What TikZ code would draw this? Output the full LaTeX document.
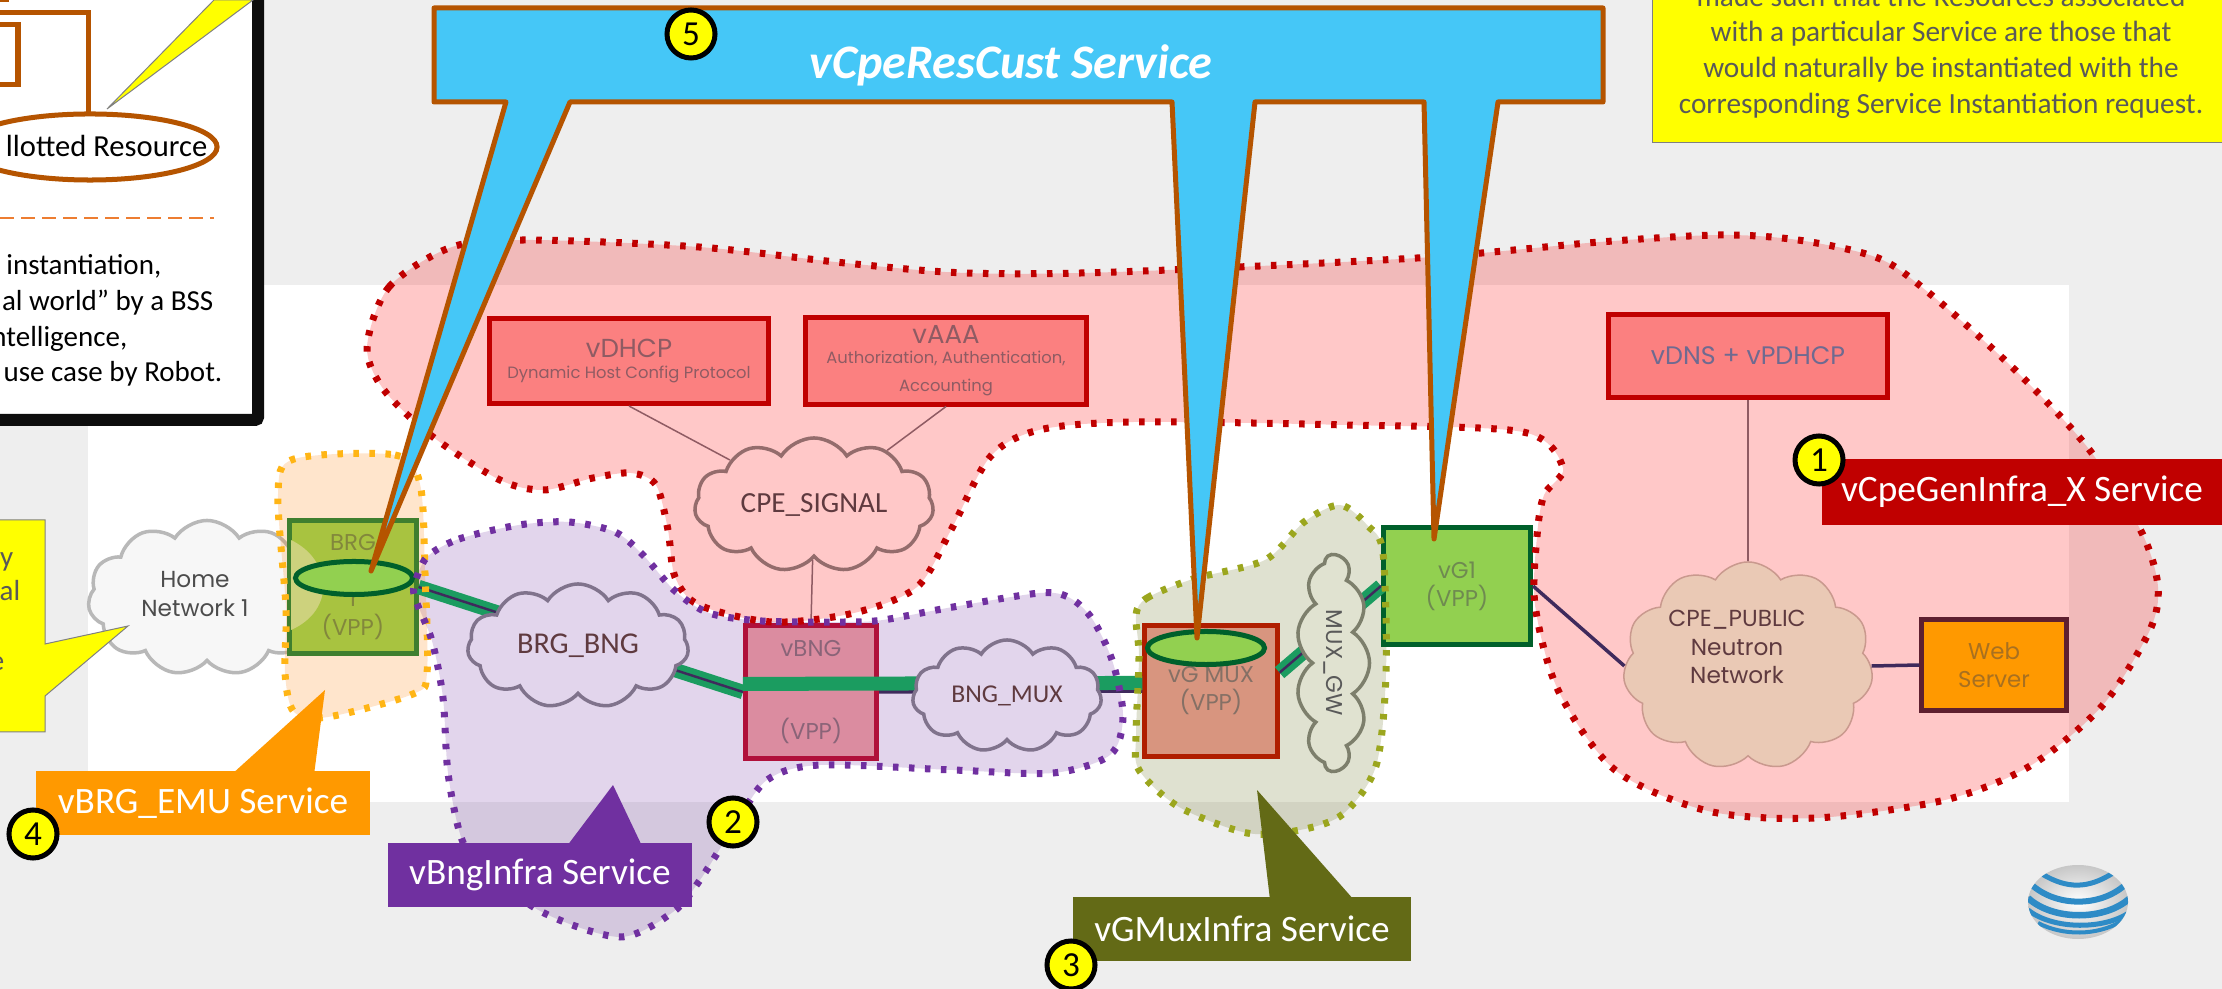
\documentclass[tikz,border=0pt]{standalone}
\usepackage{fontspec}
\usetikzlibrary{shapes.geometric,shapes.symbols}
\setmainfont{Carlito}
\newfontfamily\gothic{Poppins}
\definecolor{bggray}{HTML}{EEEEEE}
\definecolor{noteyellow}{HTML}{FFFF00}
\definecolor{boxred}{HTML}{C00000}
\definecolor{boxpink}{HTML}{FB8080}
\definecolor{calloutblue}{HTML}{45C7F7}
\definecolor{calloutbrown}{HTML}{B55400}
\definecolor{labelorange}{HTML}{FF9900}
\definecolor{labelpurple}{HTML}{7030A0}
\definecolor{labelolive}{HTML}{636A16}
\definecolor{dotorange}{HTML}{FFB515}
\definecolor{dotolive}{HTML}{9BA61E}
\definecolor{slotgreen}{HTML}{92D050}
\definecolor{slotdark}{HTML}{00602B}
\definecolor{linkgreen}{HTML}{1B9C60}
\definecolor{linkdark}{HTML}{3F2A5C}
\definecolor{notegray}{HTML}{595959}
\definecolor{purpletint}{HTML}{E2D5EC}
\definecolor{txtmaroon}{HTML}{8F5B63}
\definecolor{txtdark}{HTML}{5F3A3F}
\definecolor{cloudgray}{HTML}{80738C}
\definecolor{webline}{HTML}{5E2030}
\definecolor{webtxt}{HTML}{A87020}
\definecolor{brgline}{HTML}{3F7F2F}
\definecolor{brgfill}{HTML}{A8C340}
\definecolor{brgtxt}{HTML}{82873C}
\definecolor{brglens}{HTML}{CDD27D}
\definecolor{bngline}{HTML}{B0103A}
\definecolor{bngfill}{HTML}{DB8CA0}
\definecolor{bngtxt}{HTML}{8A6478}
\definecolor{muxline}{HTML}{B01E00}
\definecolor{muxfill}{HTML}{D8957F}
\definecolor{muxtxt}{HTML}{857065}
\definecolor{vgtxt}{HTML}{6F8A50}
\definecolor{dnstxt}{HTML}{6F6A90}
\definecolor{signalline}{HTML}{946C6C}
\definecolor{signalfill}{HTML}{FFC8C8}
\definecolor{gwline}{HTML}{7D7F6C}
\definecolor{gwfill}{HTML}{E0E2D0}
\definecolor{publicline}{HTML}{C9998E}
\definecolor{publicfill}{HTML}{EAC9B5}
\definecolor{dashorange}{HTML}{ED7D31}
\definecolor{logoblue}{HTML}{2E8BC6}
\newcommand{\subtxt}{\fontsize{4.65pt}{5.3pt}\selectfont}
\newcommand{\bigtxt}{\fontsize{7.4pt}{9pt}\selectfont}
\def\pinkregion{plot[smooth cycle] coordinates {(367,347) (389,287) (452,247) (530,240) (699,247) (845,263) (966,273) (1116,272) (1417,258) (1600,242) (1719,235) (1798,240) (1878,258) (1929,293) (2013,368) (2088,448) (2141,531) (2158,587) (2149,632) (2102,706) (2030,766) (1945,800) (1816,818) (1708,811) (1615,770) (1558,690) (1535,605) (1537,536) (1544,495) (1563,468) (1523,432) (1346,425) (1134,422) (1039,430) (990,457) (951,530) (917,587) (854,613) (772,622) (699,605) (675,577) (668,530) (656,485) (631,473) (593,478) (544,490) (500,480) (433,437) (384,390)}}
\def\purpleregion{plot[smooth cycle] coordinates {(427,557) (459,539) (519,525) (569,522) (615,532) (643,555) (675,591) (709,613) (762,621) (845,622) (883,620) (953,607) (1040,593) (1070,598) (1093,620) (1113,663) (1123,717) (1110,755) (1053,773) (953,770) (820,765) (767,780) (735,825) (700,880) (673,912) (620,937) (542,912) (480,865) (461,837) (448,773) (443,698) (432,641) (415,598) (415,583)}}
\def\oliveregion{plot[smooth cycle] coordinates {(1136,615) (1147,598) (1193,579) (1265,560) (1304,522) (1340,505) (1368,526) (1383,553) (1386,673) (1376,766) (1343,814) (1300,830) (1247,833) (1179,807) (1139,770) (1136,735) (1139,656)}}
\def\orangeregion{plot[smooth cycle] coordinates {(294,459) (395,455) (420,484) (425,573) (427,673) (413,694) (328,717) (294,712) (285,673) (286,608) (278,494)}}
\tikzset{
    regionline/.style={line width=0.07cm, dash pattern=on 0.055cm off 0.105cm},
    vnfbox/.style={rectangle, draw=boxred, fill=boxpink, line width=0.05cm, inner sep=0, align=center, text=txtmaroon, font=\gothic\fontsize{6.5pt}{8pt}\selectfont},
    netcloud/.style={cloud, cloud puffs=11, cloud puff arc=115, cloud ignores aspect, draw, line width=0.035cm, inner sep=0, align=center, font=\fontsize{8.6pt}{10pt}\selectfont},
    gothictxt/.style={inner sep=0, align=center, font=\gothic\fontsize{6.6pt}{8.2pt}\selectfont},
    slot/.style={ellipse, draw=slotdark, fill=slotgreen, line width=0.05cm, inner sep=0, minimum width=1.17cm, minimum height=0.33cm},
    greenlink/.style={draw=linkgreen, line width=1.7pt, double=linkdark, double distance=0.7pt},
    darklink/.style={draw=linkdark, line width=0.035cm},
    thinlink/.style={draw=txtmaroon, line width=0.015cm},
    svclabel/.style={rectangle, inner sep=0, text=white, font=\fontsize{10.6pt}{12pt}\selectfont},
    numdot/.style={circle, draw=black, fill=noteyellow, line width=0.05cm, minimum size=0.48cm, inner sep=0, font=\fontsize{10pt}{11pt}\selectfont},
    boxtxt/.style={inner sep=0, anchor=base east, font=\fontsize{8.25pt}{10pt}\selectfont},
    brownline/.style={draw=calloutbrown, line width=0.05cm},
    notebox/.style={draw=gray, fill=noteyellow, line width=0.01cm}
}
\begin{document}
\begin{tikzpicture}[x=0.01cm, y=-0.01cm, >=stealth]
    \useasboundingbox (0,0) rectangle (2222,989);
    \clip (0,0) rectangle (2222,989);

    % Page background
    \fill[bggray] (0,0) rectangle (2222,989);
    \fill[white] (88,285) rectangle (2069,802);

    % Region tints
    \node[netcloud, draw=black!28, fill=black!3, minimum width=2.38cm, minimum height=1.55cm] (homenet) at (207,598) {};
    \fill[red, fill opacity=0.216] \pinkregion;
    \fill[labelpurple, fill opacity=0.2] \purpleregion;
    \fill[labelolive, fill opacity=0.2] \oliveregion;
    \fill[orange, fill opacity=0.2] \orangeregion;

    % Network functions
    \node[vnfbox, minimum width=2.79cm, minimum height=0.85cm] (vdhcp) at (629,361) {\bigtxt vDHCP\\[-2pt]\subtxt Dynamic Host Config Protocol};
    \node[vnfbox, minimum width=2.81cm, minimum height=0.86cm] (vaaa) at (946,361) {\bigtxt vAAA\\[-2.4pt]\subtxt Authorization, Authentication,\\\subtxt Accounting};
    \node[vnfbox, minimum width=2.79cm, minimum height=0.83cm, text=dnstxt, font=\gothic\fontsize{7.2pt}{8pt}\selectfont] (vdns) at (1748,356) {vDNS + vPDHCP};
    \node[vnfbox, draw=webline, fill=labelorange, minimum width=1.44cm, minimum height=0.91cm, text=webtxt] (web) at (1994,665) {Web\\Server};
    \node[vnfbox, draw=brgline, fill=brgfill, minimum width=1.26cm, minimum height=1.32cm, text=brgtxt] (brg) at (353,587) {BRG\\[8pt]T\\(VPP)};
    \fill[brglens] (291,540) .. controls (332,560) and (336,610) .. (291,630) -- cycle;
    \node[vnfbox, draw=bngline, fill=bngfill, minimum width=1.31cm, minimum height=1.32cm, text=bngtxt] (vbng) at (811,692) {vBNG\\[15.5pt](VPP)};
    \node[vnfbox, draw=muxline, fill=muxfill, minimum width=1.32cm, minimum height=1.30cm, text=muxtxt] (vgmux) at (1211,691) {vG MUX\\(VPP)};
    \node[vnfbox, draw=slotdark, fill=slotgreen, minimum width=1.47cm, minimum height=1.16cm, text=vgtxt] (vgone) at (1457,586) {vG1\\(VPP)};

    % Data path
    \draw[greenlink] (brg.east) -- (vbng.west);
    \draw[darklink] (vbng.east) -- (vgmux.west);
    \draw[linkgreen, line width=0.14cm] ([yshift=2.3pt]vbng.west) -- ([yshift=2.3pt]vgmux.west);
    \draw[greenlink] (vgmux.15) -- (vgone.west);

    % Clouds
    \node[netcloud, draw=signalline, fill=signalfill, minimum width=2.39cm, minimum height=1.34cm, text=txtdark, font=\fontsize{8.3pt}{10pt}\selectfont] (cpesignal) at (814,505) {CPE\_SIGNAL};
    \node[netcloud, draw=cloudgray, fill=purpletint, minimum width=2.21cm, minimum height=1.24cm, text=txtdark] (brgbng) at (578,646) {BRG\_BNG};
    \node[netcloud, draw=cloudgray, fill=purpletint, minimum width=1.89cm, minimum height=1.12cm, text=txtdark, font=\fontsize{7.3pt}{9pt}\selectfont] (bngmux) at (1007,696) {BNG\_MUX};
    \node[netcloud, rotate=-90, draw=gwline, fill=gwfill, minimum width=2.16cm, minimum height=0.73cm, text=black!65, font=\gothic\fontsize{6.5pt}{8pt}\selectfont] (muxgw) at (1333,663) {MUX\_GW};
    \node[netcloud, draw=publicline, fill=publicfill, line width=0.015cm, minimum width=2.5cm, minimum height=2.08cm] (cpepublic) at (1748,666) {};
    \node[gothictxt, text=txtdark] (cpepublictxt) at (1737,647) {CPE\_PUBLIC\\Neutron\\Network};
    \node[gothictxt, text=black!70] (hometxt) at (195,594) {Home\\Network 1};

    % Thin connections
    \draw[thinlink] (vdhcp.south) -- (cpesignal);
    \draw[thinlink] (vaaa.south) -- (cpesignal);
    \draw[thinlink] (cpesignal) -- (vbng.north);
    \draw[thinlink] (vdns) -- (cpepublic);
    \draw[darklink] (vgone.east) -- (cpepublic.west);
    \draw[darklink] (cpepublic.east) -- (web.west);

    % Allotted slots
    \node[slot] (brgslot) at (354,578) {};
    \node[slot] (vgmuxslot) at (1206,648) {};

    % Region outlines
    \draw[boxred, regionline] \pinkregion;
    \draw[dotorange, regionline] \orangeregion;
    \draw[labelpurple, regionline] \purpleregion;
    \draw[dotolive, regionline] \oliveregion;

    % Left note
    \draw[notebox] (-10,520) -- (45,520) -- (45,644) -- (128,626) -- (45,696) -- (45,732) -- (-10,732) -- cycle;
    \foreach \x/\y/\t in {14/567/y, 21/601/al, 5/671/e} {
        \node[boxtxt, text=notegray] (side\y) at (\x,\y) {\t};
    }

    % Legend box
    \draw[black!95, fill=white, line width=0.12cm, rounded corners=0.03cm] (-20,-20) rectangle (258,420);
    \draw[brownline] (-10,0) -- (9,0);
    \draw[brownline] (-10,13) -- (88,13) -- (88,112);
    \draw[brownline] (-10,25) -- (18,25) -- (18,85) -- (-10,85);
    \node[ellipse, brownline, fill=white, minimum width=2.54cm, minimum height=0.66cm, inner sep=0] (allotted) at (90,147) {};
    \node[boxtxt, font=\fontsize{8.7pt}{10pt}\selectfont] (allottedtxt) at (208,157) {llotted Resource};
    \draw[dashorange, line width=0.012cm, dash pattern=on 0.14cm off 0.07cm] (0,218) -- (214,218);
    \foreach \x/\y/\t in {162/275/{instantiation,}, 214/311/{al world” by a BSS}, 128/347/{ntelligence,}, 223/382/{use case by Robot.}} {
        \node[boxtxt] (legend\y) at (\x,\y) {\t};
    }
    \draw[notebox] (107,109) -- (214,0) -- (253,0) -- cycle;

    % Right note
    \draw[notebox] (1652,-10) rectangle (2240,143);
    \node[inner sep=0, align=center, text=notegray, font=\fontsize{8.33pt}{10.16pt}\selectfont] (renote) at (1941,52) {made such that the Resources associated\\with a particular Service are those that\\would naturally be instantiated with the\\corresponding Service Instantiation request.};

    % Big callout
    \draw[calloutbrown, fill=calloutblue, line width=0.05cm, line join=round] (434,8) -- (1603,8) -- (1603,102) -- (1498,102) -- (1434,539) -- (1424,102) -- (1255,102) -- (1197,638) -- (1172,102) -- (570,102) -- (371,571) -- (506,102) -- (434,102) -- cycle;
    \node[inner sep=0, text=white, font=\bfseries\itshape\fontsize{13.7pt}{15pt}\selectfont] (rescust) at (1011,65) {vCpeResCust Service};

    % Service labels
    \fill[labelorange] (231,775) -- (325,690) -- (314,775) -- cycle;
    \fill[labelpurple] (567,846) -- (613,785) -- (642,846) -- cycle;
    \fill[labelolive] (1270,900) -- (1257,790) -- (1354,900) -- cycle;
    \node[svclabel, fill=boxred, minimum width=4cm, minimum height=0.65cm] (gencap) at (2022,492) {vCpeGenInfra\_X Service};
    \node[svclabel, fill=labelorange, minimum width=3.33cm, minimum height=0.64cm] (brgcap) at (203,803) {vBRG\_EMU Service};
    \node[svclabel, fill=labelpurple, minimum width=3.03cm, minimum height=0.64cm] (bngcap) at (540,875) {vBngInfra Service};
    \node[svclabel, fill=labelolive, minimum width=3.38cm, minimum height=0.64cm] (muxcap) at (1242,929) {vGMuxInfra Service};

    % Numbers
    \foreach \n/\x/\y in {1/1819/460, 2/733/822, 3/1071/965, 4/33/834, 5/691/34} {
        \node[numdot] (num\n) at (\x,\y) {\n};
    }

    % Logo
    \begin{scope}
        \clip (2078,902) ellipse [x radius=50, y radius=37];
        \shade[inner color=white, outer color=black!22] (2078,902) ellipse [x radius=50, y radius=37];
        \foreach \a/\b/\c/\d/\e/\w in {2042/2113/874/889/873/0.05, 2033/2125/886/907/885/0.06, 2028/2130/898/921/898/0.065, 2028/2130/910/930/912/0.05, 2038/2122/923/936/921/0.04} {
            \draw[logoblue, line width=\w cm] (\a,\c) .. controls (\a+25,\d) and (\b-25,\d) .. (\b,\e);
        }
    \end{scope}
\end{tikzpicture}
\end{document}
